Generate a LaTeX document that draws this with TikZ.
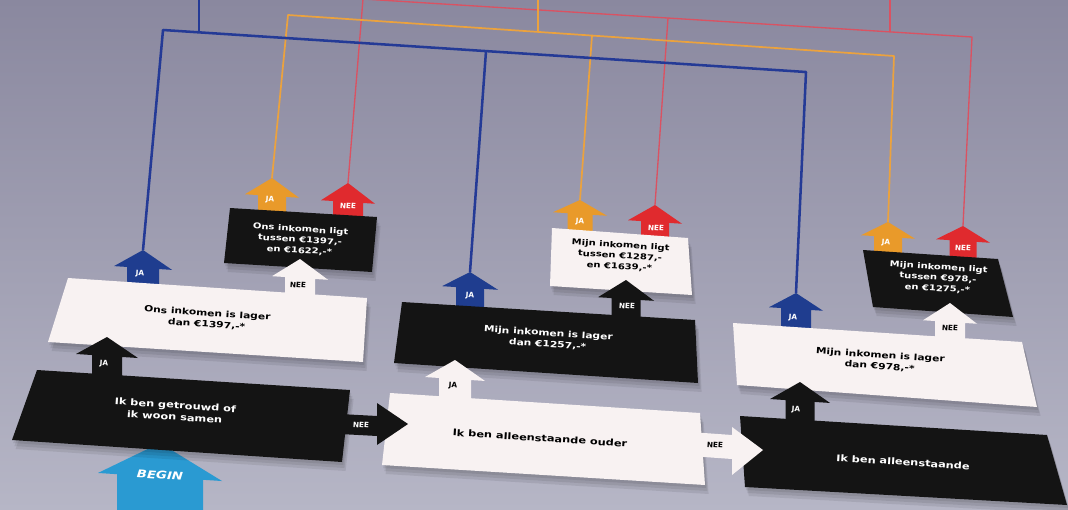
\documentclass[tikz,border=0pt]{standalone}
\usepackage{fontspec}
\setmainfont{DejaVu Sans}
\usetikzlibrary{calc}
\definecolor{bgtop}{HTML}{8A889F}
\definecolor{bgbot}{HTML}{B6B6C6}
\definecolor{boxw}{HTML}{F8F2F2}
\definecolor{boxk}{HTML}{141414}
\definecolor{arblue}{HTML}{1F3D8F}
\definecolor{lnblue}{HTML}{243A96}
\definecolor{arorange}{HTML}{E99A2A}
\definecolor{lnorange}{HTML}{EBA23E}
\definecolor{arred}{HTML}{E02A2E}
\definecolor{lnred}{HTML}{DA5262}
\definecolor{begin}{HTML}{2A9AD2}
\newcommand{\uparw}[8]{%
  \fill[#8] (#2,#3) -- ({#2+#4},{#3+#5+0.065*#4}) -- ({#2+#6},{#3+#5+0.065*#6})
    -- ({#2+#6},{#7+0.065*#6}) -- ({#2-#6},{#7-0.065*#6})
    -- ({#2-#6},{#3+#5-0.065*#6}) -- ({#2-#4},{#3+#5-0.065*#4}) -- cycle;
  \coordinate (#1) at (#2,#3);}
\newcommand{\qbox}[5]{%
  \foreach \s in {3,6,9} {\fill[black,opacity=.08,shift={(0.4*\s,\s)}] #2 -- #3 -- #4 -- #5 -- cycle;}
  \fill[#1] #2 -- #3 -- #4 -- #5 -- cycle;}
\tikzset{
  txt/.style={font=\bfseries\fontsize{8.5}{11}\selectfont, align=center, rotate=-3.7, yscale=.8, inner sep=0pt},
  txtw/.style={txt, text=white},
  txtk/.style={txt, text=black},
  lbl/.style={font=\bfseries\fontsize{5.5}{5.5}\selectfont, rotate=-3.7, inner sep=0pt},
  bline/.style={draw=lnblue, line width=1.9pt, line join=round},
  oline/.style={draw=lnorange, line width=1.3pt, line join=round},
  rline/.style={draw=lnred, line width=1pt, line join=round}
}
\begin{document}
\begin{tikzpicture}[x=0.75pt,y=-0.75pt]
\useasboundingbox (0,0) rectangle (1068,510);
\shade[top color=bgtop, bottom color=bgbot] (0,0) rectangle (1068,510);
\begin{scope}
\clip (0,0) rectangle (1068,510);
% ---------- top level arrows and boxes
\uparw{A5}{272}{178}{27}{18}{14}{214}{arorange}
\uparw{A6}{348}{183}{27}{19}{15}{219}{arred}
\uparw{A10}{580}{200}{27}{14}{12.5}{234}{arorange}
\uparw{A11}{655}{205}{27}{17}{14}{240}{arred}
\uparw{A15}{888}{222}{27}{15}{14}{256}{arorange}
\uparw{A16}{963}{226}{27}{15}{13.5}{262}{arred}
\node[lbl,text=white] (A5l) at (270,200) {JA};
\node[lbl,text=white] (A6l) at (348,206) {NEE};
\node[lbl,text=white] (A10l) at (580,222) {JA};
\node[lbl,text=white] (A11l) at (656,228) {NEE};
\node[lbl,text=white] (A15l) at (886,243) {JA};
\node[lbl,text=white] (A16l) at (963,248) {NEE};
\qbox{boxk}{(230,208)}{(377,217)}{(372,272)}{(224,263)}
\qbox{boxw}{(552,228)}{(688,238)}{(692,295)}{(550,286)}
\qbox{boxk}{(863,250)}{(998,259)}{(1013,317)}{(873,307)}
\node[txtw,font=\bfseries\fontsize{7.5}{10}\selectfont] (t3) at (300,240) {Ons inkomen ligt\\tussen €1397,-\\en €1622,-*};
\node[txtk,font=\bfseries\fontsize{7.5}{10}\selectfont] (t6) at (620,256) {Mijn inkomen ligt\\tussen €1287,-\\en €1639,-*};
\node[txtw,font=\bfseries\fontsize{7.5}{10}\selectfont] (t9) at (938,278) {Mijn inkomen ligt\\tussen €978,-\\en €1275,-*};
% ---------- middle level arrows and boxes
\uparw{A3}{143}{250}{29}{18}{16}{290}{arblue}
\uparw{A4}{300}{259}{28}{19}{15}{303}{boxw}
\uparw{A8}{470}{272}{28}{16}{14}{312}{arblue}
\uparw{A9}{626}{280}{28}{19}{14.5}{324}{boxk}
\uparw{A13}{796}{293}{27}{16}{15}{333}{arblue}
\uparw{A14}{950}{303}{27}{19}{15}{346}{boxw}
\node[lbl,text=white] (A3l) at (140,274) {JA};
\node[lbl,text=black] (A4l) at (298,285) {NEE};
\node[lbl,text=white] (A8l) at (470,296) {JA};
\node[lbl,text=white] (A9l) at (627,306) {NEE};
\node[lbl,text=white] (A13l) at (793,318) {JA};
\node[lbl,text=black] (A14l) at (950,328) {NEE};
\qbox{boxw}{(68,278)}{(367,298)}{(363,362)}{(48,342)}
\qbox{boxk}{(402,302)}{(695,320)}{(698,383)}{(394,363)}
\qbox{boxw}{(733,323)}{(1022,342)}{(1037,407)}{(737,385)}
\node[txtk,font=\bfseries\fontsize{8}{10.5}\selectfont] (t2) at (207,319) {Ons inkomen is lager\\dan €1397,-*};
\node[txtw,font=\bfseries\fontsize{8}{10.5}\selectfont] (t5) at (548,339) {Mijn inkomen is lager\\dan €1257,-*};
\node[txtk,font=\bfseries\fontsize{8}{10.5}\selectfont] (t8) at (880,361) {Mijn inkomen is lager\\dan €978,-*};
% ---------- bottom level
\uparw{A1}{107}{337}{31}{19}{15}{380}{boxk}
\uparw{A7}{455}{360}{30}{19}{16}{400}{boxw}
\uparw{A12}{800}{382}{30}{19}{14.5}{424}{boxk}
\uparw{A2}{160}{443}{62}{34}{43}{515}{begin}
\node[lbl,text=white] (A1l) at (104,364) {JA};
\node[lbl,text=black] (A7l) at (453,386) {JA};
\node[lbl,text=white] (A12l) at (796,410) {JA};
\node[txt,text=white,font=\bfseries\itshape\fontsize{10}{10}\selectfont,yscale=1] (A2l) at (160,475) {BEGIN};
\qbox{boxk}{(37,370)}{(350,390)}{(342,462)}{(12,440)}
\qbox{boxw}{(390,393)}{(700,413)}{(705,485)}{(382,465)}
\qbox{boxk}{(740,416)}{(1047,435)}{(1067,505)}{(745,487)}
\node[txtw] (t1) at (175,411) {Ik ben getrouwd of\\ik woon samen};
\node[txtk] (t4) at (540,438) {Ik ben alleenstaande ouder};
\node[txtw] (t7) at (903,462) {Ik ben alleenstaande};
% ---------- right arrows
\fill[boxk] (340,414) -- (377,416) -- (377,403) -- (408,424) -- (377,445) -- (377,436) -- (340,434) -- cycle;
\fill[boxw] (690,432) -- (732,435) -- (732,427) -- (763,450) -- (732,475) -- (732,459) -- (690,456) -- cycle;
\node[lbl,text=white] (R1l) at (361,425) {NEE};
\node[lbl,text=black] (R2l) at (715,445) {NEE};
% ---------- connector lines
\coordinate (bL) at (163,30);
\coordinate (bR) at (806,72);
\coordinate (bM) at (486,51.1);
\coordinate (bJ) at (199,32.4);
\coordinate (bT) at (199,-5);
\coordinate (oL) at (288,15);
\coordinate (oR) at (894,56);
\coordinate (oM) at (592,35.6);
\coordinate (oJ) at (538,31.9);
\coordinate (oT) at (538,-5);
\coordinate (rL) at (363,-1);
\coordinate (rR) at (972,37);
\coordinate (rM) at (668,18);
\coordinate (rJ) at (890,31.9);
\coordinate (rT) at (890,-5);
\draw[rline] (A6) -- (rL) -- (rR) -- (A16);
\draw[rline] (rM) -- (A11);
\draw[rline] (rJ) -- (rT);
\draw[oline] (A5) -- (oL) -- (oR) -- (A15);
\draw[oline] (oM) -- (A10);
\draw[oline] (oJ) -- (oT);
\draw[bline] (A3) -- (bL) -- (bR) -- (A13);
\draw[bline] (bM) -- (A8);
\draw[bline] (bJ) -- (bT);
\end{scope}
\end{tikzpicture}
\end{document}
